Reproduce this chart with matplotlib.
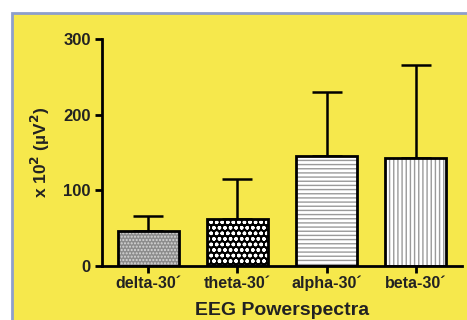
import matplotlib.pyplot as plt
from matplotlib.patches import Rectangle

# values (x 10^2 uV^2)
categories = ["delta-30´", "theta-30´", "alpha-30´", "beta-30´"]
means = [46, 62, 145, 143]
sd_upper = [66, 115, 230, 266]

plt.rcParams['font.family'] = ['Liberation Sans', 'DejaVu Sans']
plt.rcParams['font.weight'] = 'bold'
plt.rcParams['mathtext.default'] = 'bf'

fig = plt.figure(figsize=(4.67, 3.2), dpi=100)
fig.patch.set_facecolor('white')

# yellow panel with blue-grey border (left and top)
W, H = 467, 320
panel = Rectangle((12 / W, -0.01), 1, 1.01 - 13 / H, transform=fig.transFigure,
                  facecolor='#f6e84c', edgecolor='#8d9fcc', linewidth=2, zorder=-10)
fig.add_artist(panel)

ax = fig.add_axes([102 / W, (H - 266) / H, (462 - 102) / W, (266 - 39) / H])
ax.set_facecolor('none')
ax.set_zorder(1)

x = list(range(len(categories)))
errs = [u - m for u, m in zip(sd_upper, means)]

styles = [
    dict(facecolor='#8c8c8c', hatch_color='#d8d8d8', hatch='.....'),
    dict(facecolor='black', hatch_color='white', hatch='ooo'),
    dict(facecolor='white', hatch_color='#9a9a9a', hatch='----'),
    dict(facecolor='white', hatch_color='#9a9a9a', hatch='||||'),
]

width = 0.68
for i in x:
    s = styles[i]
    ax.bar(i, means[i], width, color=s['facecolor'], edgecolor=s['hatch_color'],
           hatch=s['hatch'], linewidth=0, zorder=2)
    ax.bar(i, means[i], width, fill=False, edgecolor='black', linewidth=2, zorder=3)

ax.errorbar(x, means, yerr=[[0] * len(errs), errs], fmt='none', ecolor='black',
            elinewidth=1.8, capsize=11, capthick=1.8, zorder=1)

ax.set_xlim(-0.52, 3.52)
ax.set_ylim(0, 300)
ax.set_yticks([0, 100, 200, 300])
ax.set_xticks(x)
ax.set_xticklabels(categories)

for sp in ['top', 'right']:
    ax.spines[sp].set_visible(False)
for sp in ['left', 'bottom']:
    ax.spines[sp].set_linewidth(2)
ax.tick_params(axis='both', width=2, length=5, colors='black', pad=3)
ax.tick_params(axis='y', labelsize=12)
ax.tick_params(axis='x', labelsize=11.5, pad=2)
for lab in ax.get_xticklabels() + ax.get_yticklabels():
    lab.set_fontweight('bold')
    lab.set_color('#222222')

ax.set_ylabel('x 10$^{2}$ (µV$^{2}$)', fontsize=12.5, fontweight='bold', labelpad=8,
              color='#222222')
ax.set_xlabel('EEG Powerspectra', fontsize=14, fontweight='bold', labelpad=8,
              color='#222222')

fig.savefig('out.png', dpi=100)
